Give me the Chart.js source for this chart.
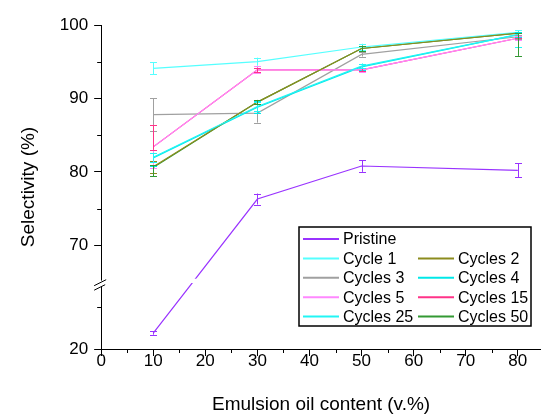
<!DOCTYPE html>
<html>
  <head>
    <title>Selectivity vs emulsion oil content</title>
    <script src="https://cdn.jsdelivr.net/npm/chart.js"></script>
    <style>
      body { margin: 0; background: #fff; }
      .chart-container { width: 541px; height: 414px; }
    </style>
  </head>
  <body>
    <div class="chart-container">
      <canvas id="selectivityChart"></canvas>
    </div>
    <script>
      const oilContent = [10, 30, 50, 80];

      const pristine = [21.9, 76.3, 80.8, 80.2];
      const cycle1 = [94.1, 95.0, 97.0, 99.0];
      const cycles2 = [80.7, 89.5, 96.8, 98.9];
      const cycles3 = [87.8, 88.0, 96.0, 98.4];
      const cycles4 = [81.9, 88.8, 94.3, 98.7];
      const cycles5 = [83.4, 93.9, 93.9, 98.2];
      const cycles15 = [83.4, 93.9, 93.9, 98.2];
      const cycles25 = [82.0, 88.9, 94.4, 98.7];
      const cycles50 = [80.6, 89.5, 96.8, 98.9];

      // error bars as [minus, plus]
      const pristineErr = [[0.2, 0.2], [0.75, 0.75], [0.8, 0.8], [0.95, 0.95]];
      const cycle1Err = [[0.8, 0.8], [0.55, 0.55], [0.45, 0.45], [0.3, 0.3]];
      const cycles2Err = [[0.8, 0.8], [0.2, 0.2], [0.3, 0.3], [0.2, 0.2]];
      const cycles3Err = [[2.2, 2.2], [1.3, 1.6], [0.3, 0.3], [0.3, 0.3]];
      const cycles4Err = [[1.1, 1.1], [0.8, 0.8], [0.45, 0.45], [0.3, 0.3]];
      const cycles5Err = [[2.9, 3.0], [0.45, 0.45], [0.3, 0.3], [0.3, 0.3]];
      const cycles15Err = [[0.4, 3.0], [0.3, 0.3], [0.2, 0.2], [2.4, 0]];
      const cycles25Err = [[0.6, 0.6], [0.6, 0.6], [0.3, 0.3], [1.7, 0.2]];
      const cycles50Err = [[1.2, 0.3], [0.3, 0.3], [0.4, 0.4], [3.1, 0]];

      const seriesNames = ['Pristine', 'Cycle 1', 'Cycles 2', 'Cycles 3', 'Cycles 4',
                           'Cycles 5', 'Cycles 15', 'Cycles 25', 'Cycles 50'];
      const seriesValues = [pristine, cycle1, cycles2, cycles3, cycles4,
                            cycles5, cycles15, cycles25, cycles50];
      const seriesErrors = [pristineErr, cycle1Err, cycles2Err, cycles3Err, cycles4Err,
                            cycles5Err, cycles15Err, cycles25Err, cycles50Err];
      const seriesColors = [
        '#9933FF', // violet
        '#55FFFF', // light cyan
        '#8C8C1E', // olive
        '#A0A0A0', // gray
        '#00E8E8', // cyan
        '#FF88FF', // light pink
        '#FF3388', // hot pink
        '#22F5F5', // cyan
        '#339933', // green
      ];
      // which one sits on top (lower = on top)
      const seriesOrder = [0, 6, 2, 5, 4, 3, 8, 1, 7];

      const xTicks = [0, 10, 20, 30, 40, 50, 60, 70, 80];
      const xMinorTicks = [5, 15, 25, 35, 45, 55, 65, 75];
      const yTicks = [20, 70, 80, 90, 100];
      const yMinorTicks = [25, 75, 85, 95];

      // broken y axis: 20..LOW_TOP at the bottom, HIGH_BOTTOM..100 above
      const LOW_TOP = 27.7;
      const HIGH_BOTTOM = 64.7;
      const LOW_SHARE = 0.2;
      const FONT = 'Arial, "Liberation Sans", sans-serif';

      class BrokenLinearScale extends Chart.LinearScale {
        buildTicks() {
          return yTicks.map(v => ({ value: v }));
        }
        toDecimal(v) {
          if (v <= LOW_TOP) return (v - 20) / (LOW_TOP - 20) * LOW_SHARE;
          return LOW_SHARE + (v - HIGH_BOTTOM) / (100 - HIGH_BOTTOM) * (1 - LOW_SHARE);
        }
        getPixelForValue(v) {
          return this.getPixelForDecimal(this.toDecimal(v));
        }
        getValueForPixel(px) {
          const d = this.getDecimalForPixel(px);
          if (d <= LOW_SHARE) return 20 + d / LOW_SHARE * (LOW_TOP - 20);
          return HIGH_BOTTOM + (d - LOW_SHARE) / (1 - LOW_SHARE) * (100 - HIGH_BOTTOM);
        }
      }
      BrokenLinearScale.id = 'brokenLinear';
      BrokenLinearScale.defaults = Chart.LinearScale.defaults;
      Chart.register(BrokenLinearScale);

      const crisp = v => Math.round(v) + 0.5;

      const extras = {
        id: 'extras',
        afterDatasetsDraw(chart) {
          const ctx = chart.ctx;
          const xs = chart.scales.x, ys = chart.scales.y;
          const area = chart.chartArea;

          // error bars
          ctx.save();
          ctx.lineWidth = 1;
          seriesValues.forEach((vals, si) => {
            ctx.strokeStyle = seriesColors[si];
            vals.forEach((v, i) => {
              const [lo, hi] = seriesErrors[si][i];
              const px = crisp(xs.getPixelForValue(oilContent[i]));
              const yLo = ys.getPixelForValue(v - lo);
              const yHi = ys.getPixelForValue(v + hi);
              ctx.beginPath();
              ctx.moveTo(px, yLo); ctx.lineTo(px, yHi);
              ctx.moveTo(px - 3.5, crisp(yLo)); ctx.lineTo(px + 3.5, crisp(yLo));
              ctx.moveTo(px - 3.5, crisp(yHi)); ctx.lineTo(px + 3.5, crisp(yHi));
              ctx.stroke();
            });
          });

          // axis break gap
          const b = ys.getPixelForDecimal(LOW_SHARE);
          ctx.fillStyle = '#fff';
          ctx.beginPath();
          ctx.moveTo(area.left - 3, b - 2);
          ctx.lineTo(area.left + 4, b - 5.5);
          ctx.lineTo(area.right, b - 5.5);
          ctx.lineTo(area.right, b - 1.2);
          ctx.lineTo(area.left + 4, b - 1.2);
          ctx.lineTo(area.left + 4, b + 0.5);
          ctx.lineTo(area.left - 3, b + 4);
          ctx.closePath();
          ctx.fill();
          ctx.strokeStyle = '#000';
          ctx.lineWidth = 1;
          ctx.beginPath();
          ctx.moveTo(area.left - 7, b + 1.5); ctx.lineTo(area.left + 5, b - 4.5);
          ctx.moveTo(area.left - 7, b + 6); ctx.lineTo(area.left + 4, b + 0.5);
          ctx.stroke();

          // minor ticks
          ctx.beginPath();
          yMinorTicks.forEach(v => {
            const py = crisp(ys.getPixelForValue(v));
            ctx.moveTo(area.left - 4, py); ctx.lineTo(area.left, py);
          });
          xMinorTicks.forEach(v => {
            const px = crisp(xs.getPixelForValue(v));
            ctx.moveTo(px, area.bottom); ctx.lineTo(px, area.bottom + 4);
          });
          ctx.stroke();
          ctx.restore();
        },
        afterDraw(chart) {
          // legend box inside the plot, Origin style
          const ctx = chart.ctx;
          const area = chart.chartArea;
          const left = area.right - 242, top = area.top + 202;
          const w = 232, h = 99, rowH = 19.4;
          ctx.save();
          ctx.fillStyle = '#fff';
          ctx.fillRect(left, top, w, h);
          ctx.strokeStyle = '#000';
          ctx.lineWidth = 1.5;
          ctx.strokeRect(left, top, w, h);
          ctx.font = '16px ' + FONT;
          ctx.textBaseline = 'middle';
          ctx.fillStyle = '#000';
          chart.data.datasets.forEach((ds, i) => {
            const row = i === 0 ? 0 : Math.ceil(i / 2);
            const col = i === 0 ? 0 : (i % 2 === 1 ? 0 : 1);
            const x0 = left + 4 + col * 115;
            const y0 = top + 12 + row * rowH;
            ctx.strokeStyle = ds.borderColor;
            ctx.lineWidth = 2;
            ctx.beginPath();
            ctx.moveTo(x0, y0); ctx.lineTo(x0 + 36, y0);
            ctx.stroke();
            ctx.fillText(ds.label, x0 + 40, y0 + 1);
          });
          ctx.restore();
        }
      };

      new Chart(document.getElementById('selectivityChart'), {
        type: 'line',
        data: {
          datasets: seriesNames.map((name, si) => ({
            label: name,
            data: oilContent.map((x, i) => ({ x: x, y: seriesValues[si][i] })),
            borderColor: seriesColors[si],
            backgroundColor: seriesColors[si],
            borderWidth: 1.2,
            pointRadius: 0,
            tension: 0,
            fill: false,
            order: seriesOrder[si],
          }))
        },
        options: {
          responsive: true,
          maintainAspectRatio: false,
          animation: false,
          layout: { padding: { left: 0, right: 0, top: 25, bottom: 0 } },
          plugins: {
            legend: { display: false },
            tooltip: { enabled: false },
          },
          scales: {
            x: {
              type: 'linear',
              min: 0,
              max: 84.45,
              afterBuildTicks: s => { s.ticks = xTicks.map(v => ({ value: v })); },
              ticks: {
                color: '#000',
                font: { family: FONT, size: 17, lineHeight: 1 },
                padding: -3,
                maxRotation: 0,
                autoSkip: false,
              },
              grid: { drawOnChartArea: false, tickLength: 7, tickColor: '#000', tickWidth: 1 },
              border: { color: '#000', width: 1 },
              title: {
                display: true,
                text: 'Emulsion oil content (v.%)',
                color: '#000',
                font: { family: FONT, size: 19, lineHeight: 1 },
                padding: { top: 28, bottom: 0 },
              },
            },
            y: {
              type: 'brokenLinear',
              min: 20,
              max: 100,
              ticks: {
                color: '#000',
                font: { family: FONT, size: 17 },
                padding: 6,
                callback: v => String(v),
              },
              grid: { drawOnChartArea: false, tickLength: 7, tickColor: '#000', tickWidth: 1 },
              border: { color: '#000', width: 1 },
              title: {
                display: true,
                text: 'Selectivity (%)',
                color: '#000',
                font: { family: FONT, size: 19 },
                padding: { top: 17, bottom: 14 },
              },
            },
          },
        },
        plugins: [extras],
      });
    </script>
  </body>
</html>
